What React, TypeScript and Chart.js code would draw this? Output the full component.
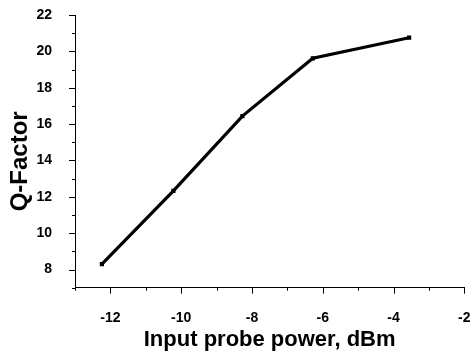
import React, { useEffect, useRef } from "react";
import { Chart, registerables } from "chart.js";

Chart.register(...registerables);

const powerDbm = [-12.24, -10.22, -8.27, -6.28, -3.56];
const qFactor = [8.3, 12.33, 16.44, 19.62, 20.75];

const xMin = -13;
const xMax = -2;
const yMin = 7;
const yMax = 22;

const xTitle = "Input probe power, dBm";
const yTitle = "Q-Factor";

const FONT = "'Liberation Sans', Arial, Helvetica, sans-serif";

const tickMarks = {
  id: "tickMarks",
  afterDraw(chart: any) {
    const ctx = chart.ctx;
    const xs = chart.scales.x;
    const ys = chart.scales.y;
    ctx.save();
    ctx.strokeStyle = "#000";
    ctx.lineWidth = 1;
    for (let v = xMin; v <= xMax; v++) {
      const px = Math.round(xs.getPixelForValue(v)) + 0.5;
      const len = v % 2 === 0 ? 6 : 3;
      ctx.beginPath();
      ctx.moveTo(px, xs.top);
      ctx.lineTo(px, xs.top + len);
      ctx.stroke();
    }
    for (let v = yMin; v <= yMax; v++) {
      const py = Math.round(ys.getPixelForValue(v)) + 0.5;
      const len = v % 2 === 0 ? 6 : 3;
      ctx.beginPath();
      ctx.moveTo(ys.right, py);
      ctx.lineTo(ys.right - len, py);
      ctx.stroke();
    }
    ctx.restore();
  },
};

export default function App() {
  const ref = useRef<HTMLCanvasElement>(null);

  useEffect(() => {
    if (!ref.current) return;
    const chart = new Chart(ref.current, {
      type: "scatter",
      data: {
        datasets: [
          {
            data: powerDbm.map((x, i) => ({ x, y: qFactor[i] })),
            showLine: true,
            borderColor: "#000",
            backgroundColor: "#000",
            borderWidth: 3.2,
            pointStyle: "rect",
            pointRadius: 3,
            pointBorderWidth: 0,
            pointBackgroundColor: "#000",
          },
        ],
      },
      plugins: [tickMarks],
      options: {
        animation: false,
        responsive: false,
        layout: { padding: { top: 15, right: 6.7, bottom: 0, left: 0 } },
        plugins: { legend: { display: false }, tooltip: { enabled: false } },
        scales: {
          x: {
            type: "linear",
            min: xMin,
            max: xMax,
            grid: { display: false },
            border: { display: true, color: "#000", width: 1 },
            ticks: {
              stepSize: 1,
              autoSkip: false,
              maxRotation: 0,
              padding: 14,
              color: "#000",
              font: { family: FONT, size: 14, weight: "bold" },
              callback: (v: any) => (Number(v) % 2 === 0 ? String(v) : ""),
            },
            title: {
              display: true,
              text: xTitle,
              color: "#000",
              padding: { top: 0, bottom: 1 },
              font: { family: FONT, size: 22, weight: "bold" },
            },
            afterFit: (s: any) => {
              s.height = 66.3;
              s.paddingLeft = 0;
              s.paddingRight = 0;
            },
          },
          y: {
            type: "linear",
            min: yMin,
            max: yMax,
            grid: { display: false },
            border: { display: true, color: "#000", width: 1 },
            ticks: {
              stepSize: 1,
              autoSkip: false,
              padding: 15,
              color: "#000",
              font: { family: FONT, size: 14, weight: "bold" },
              callback: (v: any) => (Number(v) % 2 === 0 ? String(v) : ""),
            },
            title: {
              display: true,
              text: yTitle + "   ",
              color: "#000",
              padding: { top: 6, bottom: 0 },
              font: { family: FONT, size: 24, weight: "bold" },
            },
            afterFit: (s: any) => {
              s.width = 75;
              s.paddingTop = 0;
              s.paddingBottom = 0;
            },
          },
        },
      },
    });
    return () => chart.destroy();
  }, []);

  return (
    <div style={{ position: "fixed", left: 0, top: 0, width: 471, height: 354, background: "#fff" }}>
      <canvas ref={ref} width={471} height={354} style={{ display: "block" }} />
    </div>
  );
}
